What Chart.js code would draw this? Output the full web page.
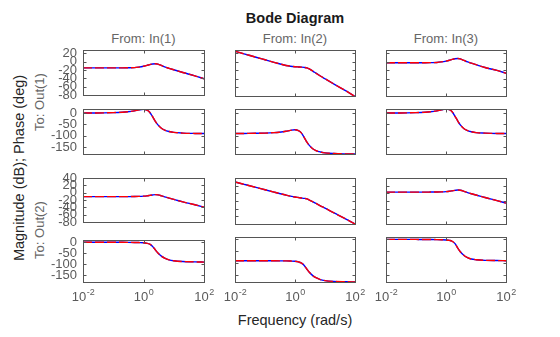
<!DOCTYPE html>
<html><head><meta charset="utf-8">
<script src="https://cdn.jsdelivr.net/npm/chart.js@4.4.1/dist/chart.umd.min.js"></script>
<style>
html,body{margin:0;padding:0;background:#fff;}
#wrap{position:relative;width:560px;height:337px;overflow:hidden;font-family:"Liberation Sans",Arial,sans-serif;}
#wrap canvas{position:absolute;left:0;top:0;pointer-events:none;}
.t{position:absolute;white-space:nowrap;line-height:1;transform:translate(-50%,-50%);}
.r{transform:translate(-50%,-50%) rotate(-90deg);}
</style></head><body>
<div id="wrap">
<div class="t" style="left:295px;top:18px;font-weight:bold;font-size:14.5px;color:#1a1a1a">Bode Diagram</div>
<div class="t" style="left:295px;top:320px;font-size:14.5px;color:#262626">Frequency (rad/s)</div>
<div class="t r" style="left:19px;top:168px;font-size:14.5px;color:#262626">Magnitude (dB); Phase (deg)</div>
</div>
<script>
// ---- data ----
const freq = [0.01, 0.02, 0.05, 0.1, 0.2, 0.3, 0.5, 0.7, 1, 1.3, 1.6, 2, 2.5, 3, 4, 5, 7, 10, 20, 50, 100];

const inputNames = ['In(1)', 'In(2)', 'In(3)'];
const outputNames = ['Out(1)', 'Out(2)'];

const magOut1In1 = [-15, -15, -15, -15, -14.9, -14.7, -14.3, -13, -11, -9, -7, -5.6, -5, -6, -9.5, -12.5, -16, -19.5, -26, -34, -41];
const magOut1In2 = [25, 19, 11, 5, -1, -4.3, -8.3, -10, -11.2, -11.8, -12.2, -12.8, -14, -16.5, -22, -26.5, -33, -39.5, -52, -68, -81];
const magOut1In3 = [-2, -2, -2, -2, -1.9, -1.7, -1.3, 0, 2, 4, 6, 7.6, 8, 7, 3.5, 0.5, -3, -6.5, -13, -20, -26.5];
const phaseOut1In1 = [0, 0.5, 1, 2, 4, 6, 10, 14, 17, 13, 4, -16, -38, -52, -68, -75, -81, -85, -88, -89.5, -90];
const phaseOut1In2 = [-90, -89.5, -89, -88, -86, -84, -80, -76, -73, -77, -86, -106, -128, -142, -158, -165, -171, -175, -178, -179.5, -180];
const phaseOut1In3 = [0, 0.5, 1, 2, 4, 6, 10, 14, 17.5, 15, 6, -14, -36, -52, -69, -76, -82, -86, -88, -89.5, -90];

const magOut2In1 = [-10.8, -10.8, -10.8, -10.8, -10.8, -10.7, -10.5, -10.2, -9.5, -8.6, -7.5, -6.2, -5.4, -6, -8.8, -11.5, -15, -18.3, -25, -33, -39.5];
const magOut2In2 = [29.5, 23.5, 15.5, 9.3, 3.2, -0.3, -4.5, -7.2, -9.7, -11, -12, -13, -14.5, -17.5, -22.5, -26.5, -32.5, -38.5, -51, -67, -80];
const magOut2In3 = [3.2, 3.2, 3.2, 3.2, 3.2, 3.3, 3.5, 3.8, 4.5, 5.4, 6.5, 7.8, 8.6, 8, 5.2, 2.5, -1, -4.3, -11, -19, -25.5];
const phaseOut2In1 = [0, 0, -0.1, -0.2, -0.4, -0.6, -1, -1.5, -2.5, -5, -9, -19, -36, -49, -64, -72, -80, -84, -87.5, -89, -90];
const phaseOut2In2 = [-90, -90, -90.1, -90.2, -90.4, -90.6, -91, -91.5, -92.5, -95, -99, -109, -126, -139, -154, -162, -170, -174, -177.5, -179, -180];
const phaseOut2In3 = [0, 0, -0.1, -0.2, -0.4, -0.6, -1, -1.5, -2.5, -4.5, -8, -18, -38, -52, -68, -76, -83, -86, -88.5, -89.5, -90];

const freqTicks = [0.01, 1, 100];
const magTicksOut1 = [20, 0, -20, -40, -60, -80];
const magTicksOut2 = [40, 20, 0, -20, -40, -60, -80];
const phaseTicks = [0, -50, -100, -150];

// ---- layout ----
const colX = [[83, 204], [235, 355], [386, 506]];
const rowY = [
  [[50, 95], [50, 96], [50, 96]],
  [[109, 154], [109, 154], [109, 154]],
  [[178, 222], [178, 224], [178, 224]],
  [[240, 282], [237, 282], [237, 282]]
];
const rowRange = [[-80, 28], [-180, 18], [-80, 40], [-180, 10]];
const rowTicks = [magTicksOut1, phaseTicks, magTicksOut2, phaseTicks];
const table = [
  [magOut1In1, magOut1In2, magOut1In3],
  [phaseOut1In1, phaseOut1In2, phaseOut1In3],
  [magOut2In1, magOut2In2, magOut2In3],
  [phaseOut2In1, phaseOut2In2, phaseOut2In3]
];
const Y_AXIS_W = 50;

const wrap = document.getElementById('wrap');
function addText(txt, x, y, size, color, rot) {
  const d = document.createElement('div');
  d.className = 't' + (rot ? ' r' : '');
  d.style.left = x + 'px'; d.style.top = y + 'px';
  d.style.fontSize = size + 'px'; d.style.color = color;
  d.textContent = txt;
  wrap.appendChild(d);
}
inputNames.forEach((n, c) => addText('From: ' + n, (colX[c][0] + colX[c][1]) / 2, 38, 13, '#666', false));
outputNames.forEach((n, o) => addText('To: ' + n, 39, (rowY[2 * o][0][0] + rowY[2 * o + 1][0][1]) / 2, 13, '#666', true));

const boxPlugin = {
  id: 'boxTicks',
  afterDraw(chart) {
    const ctx = chart.ctx, a = chart.chartArea, xs = chart.scales.x, ys = chart.scales.y;
    const o = chart.options.plugins.boxTicks;
    ctx.save();
    ctx.strokeStyle = '#555';
    ctx.lineWidth = 1;
    ctx.beginPath();
    const L = a.left + 0.5, R = a.right + 0.5, T = a.top + 0.5, B = a.bottom + 0.5;
    ys.ticks.forEach(t => {
      const py = Math.round(ys.getPixelForValue(t.value)) + 0.5;
      ctx.moveTo(L, py); ctx.lineTo(L + 3, py);
      ctx.moveTo(R, py); ctx.lineTo(R - 3, py);
    });
    xs.ticks.forEach(t => {
      const px = Math.round(xs.getPixelForValue(t.value)) + 0.5;
      ctx.moveTo(px, T); ctx.lineTo(px, T + 3);
      ctx.moveTo(px, B); ctx.lineTo(px, B - 3);
    });
    ctx.stroke();
    ctx.strokeRect(L, T, a.right - a.left, a.bottom - a.top);
    if (o.xLabels) {
      ctx.fillStyle = '#5a5a5a';
      ctx.textBaseline = 'alphabetic';
      ctx.textAlign = 'left';
      xs.ticks.forEach(t => {
        const px = xs.getPixelForValue(t.value);
        const e = String(Math.round(Math.log10(t.value)));
        ctx.font = '13px "Liberation Sans", Arial, sans-serif';
        const w1 = ctx.measureText('10').width;
        ctx.font = '9px "Liberation Sans", Arial, sans-serif';
        const w2 = ctx.measureText(e).width;
        const x0 = px - (w1 + w2) / 2;
        ctx.font = '13px "Liberation Sans", Arial, sans-serif';
        ctx.fillText('10', x0, a.bottom + 19);
        ctx.font = '9px "Liberation Sans", Arial, sans-serif';
        ctx.fillText(e, x0 + w1 + 0.5, a.bottom + 13);
      });
    }
    ctx.restore();
  }
};

for (let r = 0; r < 4; r++) {
  for (let c = 0; c < 3; c++) {
    const cv = document.createElement('canvas');
    cv.width = 560; cv.height = 337;
    wrap.appendChild(cv);
    const [l, rt] = colX[c];
    const [t, b] = rowY[r][c];
    const vals = table[r][c];
    const ticksY = rowTicks[r];
    const yw = c === 0 ? Y_AXIS_W : 0;
    new Chart(cv, {
      type: 'line',
      data: {
        labels: freq,
        datasets: [
          { data: freq.map((f, i) => ({ x: f, y: vals[i] })), borderColor: '#0000ff', borderWidth: 1.4, pointRadius: 0, cubicInterpolationMode: 'monotone', order: 1 },
          { data: freq.map((f, i) => ({ x: f, y: vals[i] })), borderColor: '#ff0000', borderWidth: 1.4, borderDash: [9, 3], pointRadius: 0, cubicInterpolationMode: 'monotone', order: 0 }
        ]
      },
      options: {
        responsive: false,
        animation: false,
        devicePixelRatio: 1,
        events: [],
        layout: { padding: { left: l - yw, right: 560 - rt, top: t, bottom: 337 - b } },
        plugins: { legend: { display: false }, tooltip: { enabled: false }, title: { display: false }, boxTicks: { xLabels: r === 3 } },
        scales: {
          x: {
            type: 'logarithmic', min: 0.01, max: 100,
            afterBuildTicks: s => { s.ticks = freqTicks.map(v => ({ value: v })); },
            afterFit: s => { s.height = 0; },
            ticks: { display: false },
            grid: { display: false, drawTicks: false },
            border: { display: false }
          },
          y: {
            type: 'linear', min: rowRange[r][0], max: rowRange[r][1],
            afterBuildTicks: s => { s.ticks = ticksY.map(v => ({ value: v })); },
            afterFit: s => { s.width = yw; },
            ticks: {
              display: c === 0, autoSkip: false, padding: 6, color: '#5a5a5a',
              font: { family: '"Liberation Sans", Arial, sans-serif', size: 13 },
              callback: v => String(v)
            },
            grid: { display: false, drawTicks: false },
            border: { display: false }
          }
        }
      },
      plugins: [boxPlugin]
    });
  }
}
</script>
</body></html>
